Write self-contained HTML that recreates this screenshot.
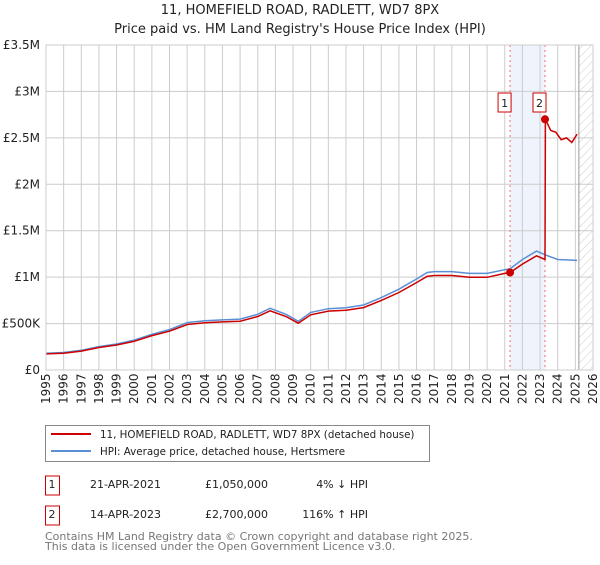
<!DOCTYPE html>
<html><head><meta charset="utf-8"><style>
body{margin:0;background:#fff;font-family:"Liberation Sans","DejaVu Sans",sans-serif;}
svg text{font-family:"DejaVu Sans","Liberation Sans",sans-serif;}
</style></head><body>
<svg id="c" width="600" height="560" xmlns="http://www.w3.org/2000/svg">
<defs><pattern id="hatch" width="6" height="6" patternUnits="userSpaceOnUse" patternTransform="rotate(45)"><line x1="0" y1="0" x2="0" y2="6" stroke="#ccc" stroke-width="1"/></pattern></defs>
<text x="300" y="14" text-anchor="middle" font-size="13" fill="#222">11, HOMEFIELD ROAD, RADLETT, WD7 8PX</text>
<text x="300" y="33" text-anchor="middle" font-size="13" fill="#222">Price paid vs. HM Land Registry's House Price Index (HPI)</text>
<g id="plot"></g>
<rect x="45.5" y="425.5" width="384" height="36" fill="#fff" stroke="#888"/>
<line x1="51" y1="434" x2="91" y2="434" stroke="#cc0000" stroke-width="2"/>
<text x="100" y="438" font-size="10.3" fill="#222">11, HOMEFIELD ROAD, RADLETT, WD7 8PX (detached house)</text>
<line x1="51" y1="451" x2="91" y2="451" stroke="#5b8fd4" stroke-width="2"/>
<text x="100" y="455" font-size="10.3" fill="#222">HPI: Average price, detached house, Hertsmere</text>
<rect x="45.5" y="476" width="14" height="19" fill="#fff" stroke="#cc0000"/>
<text x="52" y="488" font-size="11" text-anchor="middle" fill="#222">1</text>
<text x="90" y="488" font-size="11" fill="#222">21-APR-2021</text>
<text x="205" y="488" font-size="11" fill="#222">£1,050,000</text>
<text x="368" y="488" font-size="11" fill="#222" text-anchor="end">4% ↓ HPI</text>
<rect x="45.5" y="506" width="14" height="19" fill="#fff" stroke="#cc0000"/>
<text x="52" y="518" font-size="11" text-anchor="middle" fill="#222">2</text>
<text x="90" y="518" font-size="11" fill="#222">14-APR-2023</text>
<text x="205" y="518" font-size="11" fill="#222">£2,700,000</text>
<text x="368" y="518" font-size="11" fill="#222" text-anchor="end">116% ↑ HPI</text>
<text x="45" y="540" font-size="11" fill="#777">Contains HM Land Registry data © Crown copyright and database right 2025.</text>
<text x="45" y="550" font-size="11" fill="#777">This data is licensed under the Open Government Licence v3.0.</text>
</svg>
<script>
const years=[1995,1996,1997,1998,1999,2000,2001,2002,2003,2004,2005,2006,2007,2008,2009,2010,2011,2012,2013,2014,2015,2016,2017,2018,2019,2020,2021,2022,2023,2024,2025,2026];
const yTicks=[0,500000,1000000,1500000,2000000,2500000,3000000,3500000];
const yTickLabels=["£0","£500K","£1M","£1.5M","£2M","£2.5M","£3M","£3.5M"];
const hpiDates=[1995,1996,1997,1998,1999,2000,2001,2002,2003,2004,2005,2006,2007,2007.7,2008.6,2009.3,2010,2011,2012,2013,2014,2015,2016,2016.6,2017,2018,2019,2020,2021,2021.3,2022,2022.8,2023.3,2024,2025.1];
const hpiValues=[180000,188000,212000,252000,280000,322000,385000,435000,510000,530000,540000,548000,600000,665000,600000,525000,620000,660000,670000,700000,780000,870000,980000,1050000,1060000,1060000,1040000,1040000,1080000,1090000,1190000,1280000,1240000,1190000,1180000];
const propDates=[1995,1996,1997,1998,1999,2000,2001,2002,2003,2004,2005,2006,2007,2007.7,2008.6,2009.3,2010,2011,2012,2013,2014,2015,2016,2016.6,2017,2018,2019,2020,2021,2021.3,2022,2022.8,2023.28,2023.3,2023.6,2023.9,2024.2,2024.5,2024.8,2025.1];
const propValues=[173000,180000,203000,242000,269000,309000,370000,418000,490000,509000,518000,526000,576000,638000,576000,504000,595000,634000,643000,672000,749000,835000,941000,1008000,1018000,1018000,998000,998000,1040000,1050000,1140000,1230000,1190000,2700000,2580000,2560000,2480000,2500000,2450000,2540000];
const sales=[{d:2021.3,v:1050000,label:"1"},{d:2023.28,v:2700000,label:"2"}];

const X0=46,X1=593,Y0=370,Y1=45;
const xs=d=>X0+(d-1995)/(2026-1995)*(X1-X0);
const ys=v=>Y0-v/3500000*(Y0-Y1);
const NS="http://www.w3.org/2000/svg";
const g=document.getElementById('plot');
function mk(t,a){const e=document.createElementNS(NS,t);for(const k in a)e.setAttribute(k,a[k]);g.appendChild(e);return e;}
let e=mk('rect',{x:xs(sales[0].d),y:Y1,width:xs(sales[1].d)-xs(sales[0].d),height:Y0-Y1,fill:'#eef3fc'});


yTicks.forEach((v,i)=>{const l=mk('line',{x1:X0,x2:X1,y1:ys(v),y2:ys(v),stroke:'#ccc'});


const t=mk('text',{x:X0-6,y:ys(v)+4,'text-anchor':'end','font-size':12,fill:'#222'});t.textContent=yTickLabels[i];

});
years.forEach(y=>{const l=mk('line',{x1:xs(y),x2:xs(y),y1:Y1,y2:Y0,stroke:'#ccc'});


const t=mk('text',{x:0,y:0,'font-size':12,fill:'#222',transform:`translate(${xs(y)+4},${Y0+34}) rotate(-90)`});t.textContent=y;

});
e=mk('rect',{x:xs(2025.2),y:Y1,width:X1-xs(2025.2),height:Y0-Y1,fill:'url(#hatch)',stroke:'#999'});


sales.forEach(s=>{const l=mk('line',{x1:xs(s.d),x2:xs(s.d),y1:Y1,y2:Y0,stroke:'#f07070','stroke-dasharray':'2,3'});

});
const path=(ds,vs)=>ds.map((d,i)=>(i?'L':'M')+xs(d).toFixed(1)+','+ys(vs[i]).toFixed(1)).join('');
e=mk('path',{d:path(hpiDates,hpiValues),fill:'none',stroke:'#5b8fd4','stroke-width':1.5});


e=mk('path',{d:path(propDates,propValues),fill:'none',stroke:'#cc0000','stroke-width':1.5});


sales.forEach(s=>{const c=mk('circle',{cx:xs(s.d),cy:ys(s.v),r:4,fill:'#cc0000'});


const r=mk('rect',{x:xs(s.d)-12,y:93,width:13,height:19,fill:'#fff',stroke:'#cc0000'});


const t=mk('text',{x:xs(s.d)-5.5,y:107,'text-anchor':'middle','font-size':11,fill:'#222'});t.textContent=s.label;

});
e=mk('rect',{x:X0,y:Y1,width:X1-X0,height:Y0-Y1,fill:'none',stroke:'#ccc'});


</script>
</body></html>
